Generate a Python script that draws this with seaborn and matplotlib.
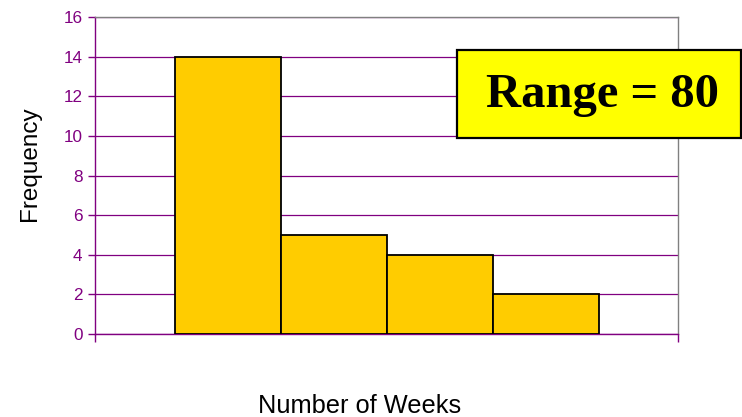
import matplotlib
matplotlib.use("Agg")
import matplotlib.pyplot as plt
from matplotlib.patches import Rectangle
import pandas as pd
import seaborn as sns

# Histogram of weeks: four class intervals and their frequencies
bins = ["Class 1", "Class 2", "Class 3", "Class 4"]
frequency = [14, 5, 4, 2]
y_ticks = [0, 2, 4, 6, 8, 10, 12, 14, 16]
range_label = "Range = 80"

PURPLE = "#800080"
GOLD = "#FFCC00"
GRAY = "#808080"

sns.set_theme(style="white")
plt.rcParams["font.family"] = ["Liberation Sans", "DejaVu Sans"]

df = pd.DataFrame({"bin": bins, "frequency": frequency})

fig = plt.figure(figsize=(7.42, 4.17), dpi=100)
ax = fig.add_axes([95 / 742, 1 - 334 / 417, (678 - 95) / 742, (334 - 17) / 417])

sns.barplot(data=df, x="bin", y="frequency", color=GOLD, saturation=1,
            width=1.0, edgecolor="black", linewidth=1.3, ax=ax, zorder=3)

ax.set_xlim(-1.25, 4.25)
ax.set_ylim(0, 16)
ax.set_yticks(y_ticks)
ax.set_yticklabels([str(t) for t in y_ticks], color=PURPLE, fontsize=12.3)
ax.set_xticks([-1.25, 4.25])
ax.set_xticklabels(["", ""])
ax.tick_params(axis="both", direction="out", length=5, width=1, color=PURPLE,
               bottom=True, left=True, pad=4)
ax.tick_params(axis="x", length=6)

ax.yaxis.grid(True, color=PURPLE, linewidth=0.9)
ax.xaxis.grid(False)
ax.set_axisbelow(True)

ax.spines["left"].set_color(PURPLE)
ax.spines["bottom"].set_color(PURPLE)
ax.spines["top"].set_color(GRAY)
ax.spines["right"].set_color(GRAY)
for s in ax.spines.values():
    s.set_linewidth(1.0)

ax.set_xlabel("")
ax.set_ylabel("")
fig.text(30 / 742, 1 - 164 / 417, "Frequency", rotation=90, ha="center",
         va="center", fontsize=17.5, color="black")
fig.text(360 / 742, 1 - 413 / 417, "Number of Weeks", ha="center",
         va="baseline", fontsize=18.3, color="black")

# Highlighted annotation box
box = Rectangle((457 / 742, 1 - 138 / 417), (741 - 457) / 742, 88 / 417,
                transform=fig.transFigure, facecolor="#FFFF00",
                edgecolor="black", linewidth=1.6, zorder=10)
fig.add_artist(box)
fig.text(603 / 742, 1 - 107 / 417, range_label, ha="center", va="baseline",
         fontsize=35, fontweight="bold", family=["Liberation Serif", "DejaVu Serif"],
         color="black", zorder=11)

fig.savefig("out.png", dpi=100)
